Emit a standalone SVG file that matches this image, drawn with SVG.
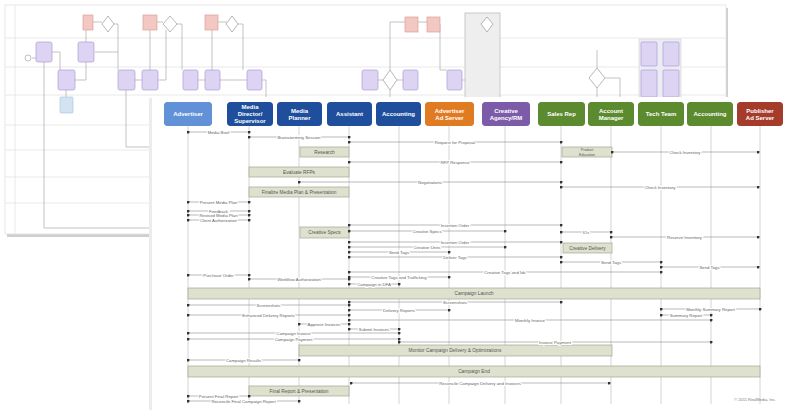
<svg xmlns="http://www.w3.org/2000/svg" width="809" height="410" viewBox="0 0 809 410">
<defs>
<marker id="dot" viewBox="0 0 4 4" refX="2" refY="2" markerWidth="3" markerHeight="3" markerUnits="userSpaceOnUse"><circle cx="2" cy="2" r="2" fill="#333"/></marker>
</defs>
<style>
text{font-family:"Liberation Sans",Arial,sans-serif}
.hd{font-size:6px;font-weight:bold;fill:#fff;text-anchor:middle}
.lf{stroke:#cfcfcf;stroke-width:0.9}
.msg{stroke:#8a8a8a;stroke-width:0.6;marker-start:url(#dot);marker-end:url(#dot)}
.ml{font-size:4.3px;fill:#666;text-anchor:middle;paint-order:stroke;stroke:#fff;stroke-width:2.2px}
.bar{fill:#dfe1cf;stroke:#a3a593;stroke-width:0.7}
.bl{font-size:4.8px;fill:#555;text-anchor:middle}
.pb{fill:#ddd3f2;stroke:#aa9fd6;stroke-width:0.7}
.kb{fill:#f3c7c2;stroke:#dba099;stroke-width:0.7}
.dm{fill:#fff;stroke:#9a9a9a;stroke-width:0.7}
.bc{stroke:#9a9a9a;stroke-width:0.6;fill:none}
.ln{stroke:#e3e3e3;stroke-width:0.8}
.hb{filter:drop-shadow(0.6px 0.8px 0.6px rgba(0,0,0,0.35))}
.blue{fill:#1f4f9c}.lblue{fill:#6191d6}.orange{fill:#e07b22}.purple{fill:#7c5ca8}.green{fill:#5c8a2e}.red{fill:#a53b2b}
</style>
<rect width="809" height="410" fill="#fff"/>

<!-- back sheet -->
<g id="back-sheet">
<rect x="7" y="8" width="721" height="229" fill="#cfcfcf"/>
<rect x="5" y="5" width="721" height="229" fill="#fff" stroke="#e2e2e2" stroke-width="0.8"/>
<line class="ln" x1="15" y1="5" x2="15" y2="234"/>
<line class="ln" x1="5" y1="38" x2="726" y2="38"/>
<line class="ln" x1="5" y1="67" x2="726" y2="67"/>
<line class="ln" x1="5" y1="95" x2="726" y2="95"/>
<line class="ln" x1="5" y1="125" x2="726" y2="125"/>
<line class="ln" x1="5" y1="150" x2="726" y2="150"/>
<line class="ln" x1="5" y1="177" x2="726" y2="177"/>
<line class="ln" x1="5" y1="203" x2="726" y2="203"/>
<g class="bc">
<path d="M32 58 H36"/>
<path d="M44 62 V228 H160"/>
<path d="M52 52 H60 V70"/>
<path d="M66 90 V97"/>
<path d="M75 80 H86 V62"/>
<path d="M86 42 V30"/>
<path d="M92 22 H102"/>
<path d="M113 24 H118 V52 H95"/>
<path d="M118 52 V70"/>
<path d="M126 90 V147 H160"/>
<path d="M135 80 H142"/>
<path d="M150 70 V30"/>
<path d="M157 22 H163"/>
<path d="M177 24 H182 V70"/>
<path d="M158 80 H166 V30"/>
<path d="M198 80 H205"/>
<path d="M212 70 V30"/>
<path d="M218 22 H227"/>
<path d="M238 24 H243 V70"/>
<path d="M220 80 H247"/>
<path d="M262 80 H266 V100 H330"/>
<path d="M378 80 H383"/>
<path d="M390 70 V22 H405"/>
<path d="M397 80 H403"/>
<path d="M390 90 V100"/>
<path d="M418 22 H427"/>
<path d="M440 24 V70 H447"/>
<path d="M462 80 H470"/>
<path d="M475 30 V97"/>
<path d="M493 30 V97"/>
<path d="M605 78 H620 V97"/>
<path d="M597 68 V50"/>
<path d="M597 88 V97"/>
</g>
<circle cx="28" cy="58" r="3" fill="#fff" stroke="#999" stroke-width="0.6"/>
<rect class="pb" x="36" y="42" width="16" height="20" rx="2"/>
<rect class="pb" x="78" y="42" width="16" height="20" rx="2"/>
<rect class="pb" x="58" y="70" width="17" height="20" rx="2"/>
<rect x="60" y="97" width="13" height="16" rx="1" fill="#d3e3f2" stroke="#a5c0dc" stroke-width="0.6"/>
<rect class="kb" x="83" y="15" width="10" height="15"/>
<path class="dm" d="M108 16 L114 24 L108 32 L102 24 Z"/>
<rect class="pb" x="118" y="70" width="17" height="20" rx="2"/>
<rect class="pb" x="142" y="70" width="16" height="20" rx="2"/>
<rect class="kb" x="143" y="15" width="14" height="15"/>
<path class="dm" d="M170 16 L177 24 L170 32 L163 24 Z"/>
<rect class="pb" x="183" y="70" width="15" height="20" rx="2"/>
<rect class="kb" x="205" y="15" width="13" height="15"/>
<path class="dm" d="M232 16 L238 24 L232 32 L226 24 Z"/>
<rect class="pb" x="205" y="70" width="15" height="20" rx="2"/>
<rect class="pb" x="247" y="70" width="15" height="20" rx="2"/>
<rect class="pb" x="362" y="70" width="16" height="20" rx="2"/>
<path class="dm" d="M390 70 L397 80 L390 90 L383 80 Z"/>
<rect class="pb" x="403" y="70" width="15" height="20" rx="2"/>
<rect class="kb" x="405" y="17" width="13" height="15"/>
<rect class="kb" x="427" y="17" width="13" height="15"/>
<rect x="465" y="13" width="35" height="90" fill="#eeeeee" stroke="#bdbdbd" stroke-width="0.8"/>
<path class="dm" d="M487 17 L493 24 L487 32 L481 24 Z"/>
<rect class="pb" x="447" y="70" width="15" height="20" rx="2"/>
<path class="dm" d="M597 68 L605 78 L597 88 L589 78 Z"/>
<rect x="639" y="39" width="42" height="60" fill="#ececf4" stroke="#ccc" stroke-width="0.5"/>
<rect class="pb" x="641" y="42" width="16" height="24" rx="1"/>
<rect class="pb" x="663" y="42" width="16" height="24" rx="1"/>
<rect class="pb" x="641" y="70" width="16" height="27" rx="1"/>
<rect class="pb" x="663" y="70" width="16" height="27" rx="1"/>
</g>

<!-- front sheet -->
<rect x="149" y="98" width="660" height="312" fill="#ececec"/>
<rect x="152" y="97" width="657" height="313" fill="#fff"/>

<g id="lifelines">
<line class="lf" x1="188" y1="126" x2="188" y2="404"/>
<line class="lf" x1="249" y1="126" x2="249" y2="404"/>
<line class="lf" x1="299" y1="126" x2="299" y2="404"/>
<line class="lf" x1="349" y1="126" x2="349" y2="404"/>
<line class="lf" x1="399" y1="126" x2="399" y2="404"/>
<line class="lf" x1="449" y1="126" x2="449" y2="404"/>
<line class="lf" x1="505" y1="126" x2="505" y2="404"/>
<line class="lf" x1="561" y1="126" x2="561" y2="404"/>
<line class="lf" x1="611" y1="126" x2="611" y2="404"/>
<line class="lf" x1="661" y1="126" x2="661" y2="404"/>
<line class="lf" x1="711" y1="126" x2="711" y2="404"/>
<line class="lf" x1="760" y1="126" x2="760" y2="404"/>
</g>

<g id="h-advertiser"><rect class="lblue hb" x="164" y="102" width="48" height="24" rx="4"/><text class="hd" x="188" y="116.2">Advertiser</text></g>
<g id="h-media-director"><rect class="blue hb" x="227" y="102" width="46" height="24" rx="4"/><text class="hd" x="250" y="109">Media</text><text class="hd" x="250" y="115.8">Director/</text><text class="hd" x="250" y="122.6">Supervisor</text></g>
<g id="h-media-planner"><rect class="blue hb" x="277" y="102" width="45" height="24" rx="4"/><text class="hd" x="299.5" y="112.5">Media</text><text class="hd" x="299.5" y="119.5">Planner</text></g>
<g id="h-assistant"><rect class="blue hb" x="327" y="102" width="45" height="24" rx="4"/><text class="hd" x="349.5" y="116.2">Assistant</text></g>
<g id="h-accounting"><rect class="blue hb" x="376" y="102" width="45" height="24" rx="4"/><text class="hd" x="398.5" y="116.2">Accounting</text></g>
<g id="h-adv-ad-server"><rect class="orange hb" x="425" y="102" width="49" height="24" rx="4"/><text class="hd" x="449.5" y="112.5">Advertiser</text><text class="hd" x="449.5" y="119.5">Ad Server</text></g>
<g id="h-creative"><rect class="purple hb" x="482" y="102" width="48" height="24" rx="4"/><text class="hd" x="506" y="112.5">Creative</text><text class="hd" x="506" y="119.5">Agency/RM</text></g>
<g id="h-sales-rep"><rect class="green hb" x="538" y="102" width="47" height="24" rx="4"/><text class="hd" x="561.5" y="116.2">Sales Rep</text></g>
<g id="h-account-manager"><rect class="green hb" x="588" y="102" width="46" height="24" rx="4"/><text class="hd" x="611" y="112.5">Account</text><text class="hd" x="611" y="119.5">Manager</text></g>
<g id="h-tech-team"><rect class="green hb" x="638" y="102" width="46" height="24" rx="4"/><text class="hd" x="661" y="116.2">Tech Team</text></g>
<g id="h-accounting-2"><rect class="green hb" x="687" y="102" width="46" height="24" rx="4"/><text class="hd" x="710" y="116.2">Accounting</text></g>
<g id="h-publisher"><rect class="red hb" x="737" y="102" width="46" height="24" rx="4"/><text class="hd" x="760" y="112.5">Publisher</text><text class="hd" x="760" y="119.5">Ad Server</text></g>

<g id="activities">
<g id="a-research"><rect class="bar" x="300" y="147" width="49" height="10"/><text class="bl" x="324.5" y="153.6">Research</text></g>
<g id="a-product-education"><rect class="bar" x="562" y="147" width="50" height="10"/><text class="bl" x="587" y="151.3" style="font-size:3.6px">Product</text><text class="bl" x="587" y="155.6" style="font-size:3.6px">Education</text></g>
<g id="a-evaluate"><rect class="bar" x="249" y="167" width="100" height="10"/><text class="bl" x="299" y="173.6">Evaluate RFPs</text></g>
<g id="a-finalize"><rect class="bar" x="249" y="187" width="100" height="10"/><text class="bl" x="299" y="193.6">Finalize Media Plan &amp; Presentation</text></g>
<g id="a-creative-specs"><rect class="bar" x="300" y="227" width="49" height="11"/><text class="bl" x="324.5" y="234">Creative Specs</text></g>
<g id="a-creative-delivery"><rect class="bar" x="563" y="243" width="49" height="10"/><text class="bl" x="587.5" y="249.6">Creative Delivery</text></g>
<g id="a-campaign-launch"><rect class="bar" x="188" y="288" width="572" height="11"/><text class="bl" x="474" y="295.3">Campaign Launch</text></g>
<g id="a-monitor"><rect class="bar" x="299" y="345" width="313" height="11"/><text class="bl" x="455" y="352.3">Monitor Campaign Delivery &amp; Optimizations</text></g>
<g id="a-campaign-end"><rect class="bar" x="188" y="366" width="572" height="11"/><text class="bl" x="474" y="373.3">Campaign End</text></g>
<g id="a-final-report"><rect class="bar" x="249" y="386" width="100" height="10"/><text class="bl" x="299" y="392.6">Final Report &amp; Presentation</text></g>
</g>

<g id="connectors">
<line class="msg" x1="188" y1="132" x2="249" y2="132"/><text class="ml" x="218.5" y="133.5">Media Brief</text>
<line class="msg" x1="249" y1="137" x2="349" y2="137"/><text class="ml" x="299" y="138.5">Brainstorming Session</text>
<line class="msg" x1="349" y1="142" x2="561" y2="142"/><text class="ml" x="455" y="143.5">Request for Proposal</text>
<line class="msg" x1="612" y1="152" x2="758" y2="152"/><text class="ml" x="685" y="153.5">Check Inventory</text>
<line class="msg" x1="349" y1="162" x2="561" y2="162"/><text class="ml" x="455" y="163.5">RFP Response</text>
<line class="msg" x1="299" y1="182" x2="561" y2="182"/><text class="ml" x="430" y="183.5">Negotiations</text>
<line class="msg" x1="561" y1="187" x2="758" y2="187"/><text class="ml" x="660" y="188.5">Check Inventory</text>
<line class="msg" x1="188" y1="202" x2="249" y2="202"/><text class="ml" x="218.5" y="203.5">Present Media Plan</text>
<line class="msg" x1="188" y1="211" x2="249" y2="211"/><text class="ml" x="218.5" y="212.5">Feedback</text>
<line class="msg" x1="188" y1="215" x2="249" y2="215"/><text class="ml" x="218.5" y="216.5">Revised Media Plan</text>
<line class="msg" x1="188" y1="220" x2="249" y2="220"/><text class="ml" x="218.5" y="221.5">Client Authorization</text>
<line class="msg" x1="349" y1="225" x2="561" y2="225"/><text class="ml" x="455" y="226.5">Insertion Order</text>
<line class="msg" x1="349" y1="231" x2="505" y2="231"/><text class="ml" x="427" y="232.5">Creative Specs</text>
<line class="msg" x1="561" y1="232" x2="611" y2="232"/><text class="ml" x="586" y="233.5">IOs</text>
<line class="msg" x1="611" y1="237" x2="758" y2="237"/><text class="ml" x="684.5" y="238.5">Reserve Inventory</text>
<line class="msg" x1="349" y1="242" x2="561" y2="242"/><text class="ml" x="455" y="243.5">Insertion Order</text>
<line class="msg" x1="349" y1="247" x2="505" y2="247"/><text class="ml" x="427" y="248.5">Creative Units</text>
<line class="msg" x1="349" y1="252" x2="449" y2="252"/><text class="ml" x="399" y="253.5">Send Tags</text>
<line class="msg" x1="349" y1="257" x2="561" y2="257"/><text class="ml" x="455" y="258.5">Deliver Tags</text>
<line class="msg" x1="561" y1="262" x2="661" y2="262"/><text class="ml" x="611" y="263.5">Send Tags</text>
<line class="msg" x1="661" y1="267" x2="758" y2="267"/><text class="ml" x="709.5" y="268.5">Send Tags</text>
<line class="msg" x1="349" y1="272" x2="661" y2="272"/><text class="ml" x="505" y="273.5">Creative Tags and Ids</text>
<line class="msg" x1="188" y1="275" x2="249" y2="275"/><text class="ml" x="218.5" y="276.5">Purchase Order</text>
<line class="msg" x1="349" y1="277" x2="449" y2="277"/><text class="ml" x="399" y="278.5">Creative Tags and Trafficking</text>
<line class="msg" x1="249" y1="279" x2="349" y2="279"/><text class="ml" x="299" y="280.5">Workflow Authorization</text>
<line class="msg" x1="349" y1="284" x2="399" y2="284"/><text class="ml" x="374" y="285.5">Campaign in DFA</text>
<line class="msg" x1="349" y1="302" x2="561" y2="302"/><text class="ml" x="455" y="303.5">Screenshots</text>
<line class="msg" x1="188" y1="305" x2="349" y2="305"/><text class="ml" x="268.5" y="306.5">Screenshots</text>
<line class="msg" x1="349" y1="310" x2="449" y2="310"/><text class="ml" x="399" y="311.5">Delivery Reports</text>
<line class="msg" x1="661" y1="309" x2="760" y2="309"/><text class="ml" x="710.5" y="310.5">Monthly Summary Report</text>
<line class="msg" x1="188" y1="315" x2="349" y2="315"/><text class="ml" x="268.5" y="316.5">Enhanced Delivery Reports</text>
<line class="msg" x1="661" y1="315" x2="711" y2="315"/><text class="ml" x="686" y="316.5">Summary Report</text>
<line class="msg" x1="349" y1="320" x2="711" y2="320"/><text class="ml" x="530" y="321.5">Monthly Invoice</text>
<line class="msg" x1="299" y1="324" x2="349" y2="324"/><text class="ml" x="324" y="325.5">Approve Invoices</text>
<line class="msg" x1="349" y1="329" x2="399" y2="329"/><text class="ml" x="374" y="330.5">Submit Invoices</text>
<line class="msg" x1="188" y1="333" x2="399" y2="333"/><text class="ml" x="293.5" y="334.5">Campaign Invoice</text>
<line class="msg" x1="188" y1="339" x2="399" y2="339"/><text class="ml" x="293.5" y="340.5">Campaign Payment</text>
<line class="msg" x1="399" y1="342" x2="711" y2="342"/><text class="ml" x="555" y="343.5">Invoice Payment</text>
<line class="msg" x1="188" y1="360" x2="299" y2="360"/><text class="ml" x="243.5" y="361.5">Campaign Results</text>
<line class="msg" x1="351" y1="383" x2="609" y2="383"/><text class="ml" x="480" y="384.5">Reconcile Campaign Delivery and Invoices</text>
<line class="msg" x1="188" y1="396" x2="249" y2="396"/><text class="ml" x="218.5" y="397.5">Present Final Report</text>
<line class="msg" x1="188" y1="401" x2="299" y2="401"/><text class="ml" x="243.5" y="402.5">Reconcile Final Campaign Report</text>
</g>

<text x="755" y="401" style="font-size:4px;fill:#777;text-anchor:middle">© 2011 RealMedia, Inc.</text>
</svg>
